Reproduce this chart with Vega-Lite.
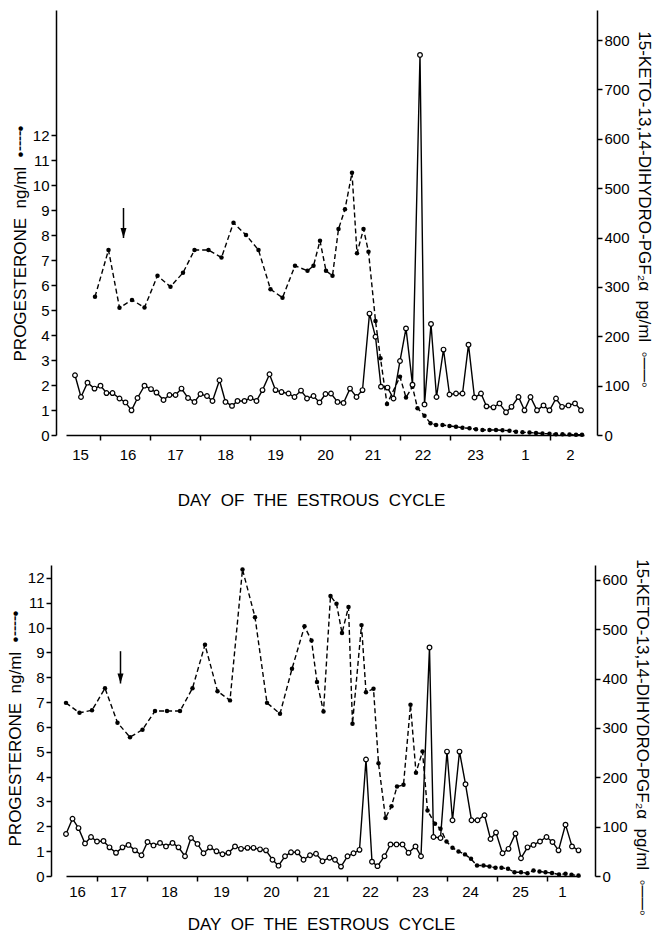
{
  "$schema": "https://vega.github.io/schema/vega-lite/v6.json",
  "padding": {"left": 6, "top": 10, "right": 0, "bottom": 0},
  "background": "white",
  "spacing": 50,
  "datasets": {
    "tp": [
      {"t":0.9,"v":5.53},{"t":1.17,"v":7.4},{"t":1.39,"v":5.09},{"t":1.64,"v":5.4},{"t":1.89,"v":5.1},
      {"t":2.15,"v":6.37},{"t":2.41,"v":5.93},{"t":2.66,"v":6.49},{"t":2.89,"v":7.4},{"t":3.17,"v":7.4},
      {"t":3.43,"v":7.1},{"t":3.67,"v":8.49},{"t":3.92,"v":8.0},{"t":4.17,"v":7.4},{"t":4.41,"v":5.83},
      {"t":4.65,"v":5.49},{"t":4.9,"v":6.77},{"t":5.15,"v":6.57},{"t":5.27,"v":6.77},{"t":5.4,"v":7.77},
      {"t":5.52,"v":6.57},{"t":5.65,"v":6.37},{"t":5.77,"v":8.24},{"t":5.9,"v":9.03},{"t":6.04,"v":10.49},
      {"t":6.14,"v":7.27},{"t":6.27,"v":8.24},{"t":6.37,"v":7.33},{"t":6.51,"v":4.56},{"t":6.61,"v":3.07},
      {"t":6.74,"v":1.24},{"t":7.0,"v":2.33},{"t":7.12,"v":1.5},{"t":7.25,"v":1.93},{"t":7.35,"v":1.07},
      {"t":7.49,"v":0.77},{"t":7.61,"v":0.47},{"t":7.72,"v":0.4},{"t":7.85,"v":0.4},{"t":7.99,"v":0.36},
      {"t":8.12,"v":0.33},{"t":8.25,"v":0.29},{"t":8.39,"v":0.27},{"t":8.52,"v":0.23},{"t":8.65,"v":0.2},
      {"t":8.79,"v":0.2},{"t":8.92,"v":0.2},{"t":9.05,"v":0.19},{"t":9.19,"v":0.17},{"t":9.32,"v":0.13},
      {"t":9.45,"v":0.11},{"t":9.59,"v":0.1},{"t":9.72,"v":0.08},{"t":9.85,"v":0.06},{"t":9.99,"v":0.05},
      {"t":10.12,"v":0.03},{"t":10.25,"v":0.03},{"t":10.39,"v":0.02},{"t":10.52,"v":0.01},{"t":10.64,"v":0.01}
    ],
    "tg": [
      {"t":0.5,"v":121},{"t":0.62,"v":77},{"t":0.75,"v":106},{"t":0.89,"v":94},{"t":1.01,"v":100},
      {"t":1.13,"v":85},{"t":1.25,"v":85},{"t":1.39,"v":74},{"t":1.51,"v":66},{"t":1.63,"v":50},
      {"t":1.75,"v":75},{"t":1.89,"v":100},{"t":2.02,"v":93},{"t":2.13,"v":86},{"t":2.27,"v":71},
      {"t":2.39,"v":81},{"t":2.51,"v":81},{"t":2.63,"v":94},{"t":2.76,"v":75},{"t":2.89,"v":67},
      {"t":3.01,"v":83},{"t":3.14,"v":79},{"t":3.25,"v":69},{"t":3.39,"v":111},{"t":3.51,"v":67},
      {"t":3.64,"v":59},{"t":3.75,"v":69},{"t":3.89,"v":69},{"t":4.01,"v":75},{"t":4.13,"v":69},
      {"t":4.25,"v":91},{"t":4.39,"v":123},{"t":4.51,"v":91},{"t":4.63,"v":87},{"t":4.77,"v":84},
      {"t":4.89,"v":77},{"t":5.02,"v":90},{"t":5.14,"v":74},{"t":5.27,"v":79},{"t":5.39,"v":66},
      {"t":5.51,"v":83},{"t":5.62,"v":84},{"t":5.75,"v":67},{"t":5.87,"v":65},{"t":6.0,"v":94},
      {"t":6.13,"v":77},{"t":6.25,"v":91},{"t":6.39,"v":246},{"t":6.51,"v":199},{"t":6.62,"v":98},
      {"t":6.75,"v":96},{"t":6.87,"v":74},{"t":7.0,"v":150},{"t":7.12,"v":216},{"t":7.25,"v":102},
      {"t":7.4,"v":770},{"t":7.49,"v":62},{"t":7.62,"v":225},{"t":7.73,"v":77},{"t":7.87,"v":173},
      {"t":7.99,"v":82},{"t":8.12,"v":84},{"t":8.25,"v":84},{"t":8.37,"v":183},{"t":8.49,"v":76},
      {"t":8.62,"v":84},{"t":8.73,"v":58},{"t":8.87,"v":56},{"t":8.99,"v":64},{"t":9.12,"v":46},
      {"t":9.23,"v":57},{"t":9.37,"v":77},{"t":9.49,"v":50},{"t":9.61,"v":77},{"t":9.74,"v":50},
      {"t":9.87,"v":60},{"t":9.99,"v":50},{"t":10.12,"v":74},{"t":10.24,"v":57},{"t":10.37,"v":60},
      {"t":10.5,"v":64},{"t":10.62,"v":50}
    ],
    "bp": [
      {"t":0.38,"v":6.97},{"t":0.65,"v":6.57},{"t":0.9,"v":6.67},{"t":1.16,"v":7.56},{"t":1.41,"v":6.17},
      {"t":1.66,"v":5.59},{"t":1.91,"v":5.89},{"t":2.16,"v":6.64},{"t":2.4,"v":6.64},{"t":2.66,"v":6.64},
      {"t":2.91,"v":7.56},{"t":3.16,"v":9.31},{"t":3.41,"v":7.44},{"t":3.66,"v":7.07},{"t":3.91,"v":12.34},
      {"t":4.16,"v":10.42},{"t":4.4,"v":6.97},{"t":4.66,"v":6.53},{"t":4.9,"v":8.34},{"t":5.15,"v":10.05},
      {"t":5.29,"v":9.48},{"t":5.4,"v":7.81},{"t":5.53,"v":6.62},{"t":5.67,"v":11.27},{"t":5.79,"v":10.96},
      {"t":5.9,"v":9.78},{"t":6.03,"v":10.83},{"t":6.11,"v":6.13},{"t":6.29,"v":10.1},{"t":6.38,"v":7.4},
      {"t":6.53,"v":7.54},{"t":6.63,"v":4.54},{"t":6.77,"v":2.33},{"t":6.89,"v":2.81},{"t":7.0,"v":3.6},
      {"t":7.13,"v":3.67},{"t":7.27,"v":6.89},{"t":7.38,"v":4.16},{"t":7.51,"v":5.01},{"t":7.61,"v":2.64},
      {"t":7.76,"v":2.1},{"t":7.87,"v":1.9},{"t":7.99,"v":1.39},{"t":8.11,"v":1.14},{"t":8.23,"v":0.99},
      {"t":8.36,"v":0.87},{"t":8.48,"v":0.69},{"t":8.6,"v":0.42},{"t":8.73,"v":0.42},{"t":8.85,"v":0.38},
      {"t":8.97,"v":0.33},{"t":9.09,"v":0.33},{"t":9.22,"v":0.29},{"t":9.35,"v":0.15},{"t":9.48,"v":0.15},
      {"t":9.61,"v":0.11},{"t":9.73,"v":0.22},{"t":9.85,"v":0.18},{"t":9.97,"v":0.15},{"t":10.1,"v":0.12},
      {"t":10.24,"v":0.06},{"t":10.37,"v":0.09},{"t":10.49,"v":0.05},{"t":10.63,"v":0.02}
    ],
    "bg": [
      {"t":0.38,"v":85},{"t":0.51,"v":116},{"t":0.63,"v":97},{"t":0.76,"v":66},{"t":0.88,"v":79},
      {"t":1.0,"v":70},{"t":1.13,"v":71},{"t":1.25,"v":58},{"t":1.38,"v":47},{"t":1.51,"v":58},
      {"t":1.63,"v":63},{"t":1.76,"v":52},{"t":1.89,"v":42},{"t":2.01,"v":69},{"t":2.13,"v":62},
      {"t":2.26,"v":67},{"t":2.38,"v":60},{"t":2.51,"v":67},{"t":2.63,"v":58},{"t":2.76,"v":40},
      {"t":2.88,"v":77},{"t":3.01,"v":65},{"t":3.13,"v":46},{"t":3.26,"v":58},{"t":3.39,"v":50},
      {"t":3.51,"v":44},{"t":3.63,"v":47},{"t":3.76,"v":60},{"t":3.88,"v":55},{"t":4.01,"v":57},
      {"t":4.13,"v":57},{"t":4.26,"v":54},{"t":4.38,"v":52},{"t":4.51,"v":33},{"t":4.63,"v":21},
      {"t":4.76,"v":40},{"t":4.88,"v":48},{"t":5.01,"v":48},{"t":5.13,"v":33},{"t":5.26,"v":42},
      {"t":5.38,"v":45},{"t":5.51,"v":30},{"t":5.65,"v":37},{"t":5.76,"v":33},{"t":5.88,"v":19},
      {"t":6.01,"v":40},{"t":6.13,"v":46},{"t":6.25,"v":53},{"t":6.38,"v":236},{"t":6.5,"v":29},
      {"t":6.61,"v":20},{"t":6.75,"v":40},{"t":6.87,"v":64},{"t":6.99,"v":64},{"t":7.11,"v":64},
      {"t":7.23,"v":47},{"t":7.37,"v":60},{"t":7.48,"v":40},{"t":7.65,"v":463},{"t":7.73,"v":79},
      {"t":7.87,"v":77},{"t":8.0,"v":252},{"t":8.11,"v":113},{"t":8.25,"v":252},{"t":8.37,"v":186},
      {"t":8.49,"v":113},{"t":8.61,"v":113},{"t":8.75,"v":123},{"t":8.87,"v":75},{"t":8.98,"v":88},
      {"t":9.11,"v":46},{"t":9.23,"v":55},{"t":9.37,"v":86},{"t":9.48,"v":36},{"t":9.61,"v":58},
      {"t":9.73,"v":63},{"t":9.86,"v":70},{"t":9.99,"v":79},{"t":10.11,"v":69},{"t":10.23,"v":52},
      {"t":10.37,"v":104},{"t":10.5,"v":60},{"t":10.63,"v":52}
    ],
    "ta": [{"t":1.47,"y":9.08,"y2":7.88}],
    "ba": [{"t":1.47,"y":9.05,"y2":7.75}]
  },
  "vconcat": [
    {
      "width": 518,
      "height": 425,
      "resolve": {"scale": {"y": "independent"}},
      "layer": [
        {
          "layer": [
            {
              "data": {"name": "tp"},
              "mark": {"type": "line", "color": "black", "strokeWidth": 1.4, "strokeDash": [5, 3]},
              "encoding": {
                "x": {"field": "t", "type": "quantitative",
                  "scale": {"domain": [0.32, 10.68], "nice": false, "zero": false},
                  "axis": {
                    "values": [0.6,1,1.55,2,2.5,3,3.5,4,4.5,5,5.5,6,6.45,7,7.45,8,8.5,9,9.5,10,10.4],
                    "tickCount": 40,
                    "labelExpr": "datum.value % 1 === 0 ? '' : ['15','16','17','18','19','20','21','22','23','1','2'][floor(datum.value)]",
                    "tickOpacity": {"condition": {"test": "datum.value % 1 === 0", "value": 1}, "value": 0},
                    "tickSize": 5, "labelPadding": 7, "labelFlush": false, "labelOverlap": false, "labelBound": false,
                    "title": "DAY\u00a0 OF\u00a0 THE\u00a0 ESTROUS\u00a0 CYCLE", "titlePadding": 30, "titleX": 245
                  }
                },
                "y": {"field": "v", "type": "quantitative",
                  "scale": {"domain": [0, 17], "nice": false, "zero": false},
                  "axis": {
                    "orient": "left", "values": [0,1,2,3,4,5,6,7,8,9,10,11,12], "tickCount": 40, "format": "d", "offset": 10,
                    "tickSize": 5, "labelPadding": 2, "labelOverlap": false, "labelBound": false,
                    "title": "PROGESTERONE\u00a0 ng/ml\u00a0 •╌╌•", "titlePadding": 3, "titleY": 233
                  }
                }
              }
            },
            {
              "data": {"name": "tp"},
              "mark": {"type": "point", "filled": true, "color": "black", "size": 20, "opacity": 1},
              "encoding": {
                "x": {"field": "t", "type": "quantitative"},
                "y": {"field": "v", "type": "quantitative"}
              }
            },
            {
              "data": {"name": "ta"},
              "mark": {"type": "rule", "color": "black", "strokeWidth": 1.5},
              "encoding": {
                "x": {"field": "t", "type": "quantitative"},
                "y": {"field": "y", "type": "quantitative"},
                "y2": {"field": "y2"}
              }
            },
            {
              "data": {"name": "ta"},
              "mark": {"type": "point", "shape": "M-0.6,-2L0.6,-2L0,0Z", "filled": true, "color": "black", "size": 100, "opacity": 1},
              "encoding": {
                "x": {"field": "t", "type": "quantitative"},
                "y": {"field": "y2", "type": "quantitative"}
              }
            }
          ]
        },
        {
          "layer": [
            {
              "data": {"name": "tg"},
              "mark": {"type": "line", "color": "black", "strokeWidth": 1.4},
              "encoding": {
                "x": {"field": "t", "type": "quantitative"},
                "y": {"field": "v", "type": "quantitative",
                  "scale": {"domain": [0, 861], "nice": false, "zero": false},
                  "axis": {
                    "orient": "right", "values": [0,100,200,300,400,500,600,700,800], "tickCount": 40, "format": "d", "offset": 13,
                    "tickSize": 5, "labelPadding": 2, "labelOverlap": false, "labelBound": false,
                    "title": "15-KETO-13,14-DIHYDRO-PGF₂α\u00a0 pg/ml\u00a0 ◦──◦", "titlePadding": 5, "titleY": 199
                  }
                }
              }
            },
            {
              "data": {"name": "tg"},
              "mark": {"type": "point", "filled": true, "fill": "white", "stroke": "black", "strokeWidth": 1.2, "size": 22, "opacity": 1},
              "encoding": {
                "x": {"field": "t", "type": "quantitative"},
                "y": {"field": "v", "type": "quantitative"}
              }
            }
          ]
        }
      ]
    },
    {
      "width": 514,
      "height": 311,
      "resolve": {"scale": {"y": "independent"}},
      "layer": [
        {
          "layer": [
            {
              "data": {"name": "bp"},
              "mark": {"type": "line", "color": "black", "strokeWidth": 1.4, "strokeDash": [5, 3]},
              "encoding": {
                "x": {"field": "t", "type": "quantitative",
                  "scale": {"domain": [0.38, 10.66], "nice": false, "zero": false},
                  "axis": {
                    "values": [0.6,1,1.42,2,2.44,3,3.48,4,4.48,5,5.48,6,6.46,7,7.46,8,8.46,9,9.46,10,10.3],
                    "tickCount": 40,
                    "labelExpr": "datum.value % 1 === 0 ? '' : ['16','17','18','19','20','21','22','23','24','25','1'][floor(datum.value)]",
                    "tickOpacity": {"condition": {"test": "datum.value % 1 === 0", "value": 1}, "value": 0},
                    "tickSize": 5, "labelPadding": 3.5, "labelFlush": false, "labelOverlap": false, "labelBound": false,
                    "title": "DAY\u00a0 OF\u00a0 THE\u00a0 ESTROUS\u00a0 CYCLE", "titlePadding": 17, "titleX": 255
                  }
                },
                "y": {"field": "v", "type": "quantitative",
                  "scale": {"domain": [0, 12.52], "nice": false, "zero": false},
                  "axis": {
                    "orient": "left", "values": [0,1,2,3,4,5,6,7,8,9,10,11,12], "tickCount": 40, "format": "d", "offset": 15,
                    "tickSize": 5, "labelPadding": 2, "labelOverlap": false, "labelBound": false,
                    "title": "PROGESTERONE\u00a0 ng/ml\u00a0 •╌╌•", "titlePadding": 3, "titleY": 163
                  }
                }
              }
            },
            {
              "data": {"name": "bp"},
              "mark": {"type": "point", "filled": true, "color": "black", "size": 20, "opacity": 1},
              "encoding": {
                "x": {"field": "t", "type": "quantitative"},
                "y": {"field": "v", "type": "quantitative"}
              }
            },
            {
              "data": {"name": "ba"},
              "mark": {"type": "rule", "color": "black", "strokeWidth": 1.5},
              "encoding": {
                "x": {"field": "t", "type": "quantitative"},
                "y": {"field": "y", "type": "quantitative"},
                "y2": {"field": "y2"}
              }
            },
            {
              "data": {"name": "ba"},
              "mark": {"type": "point", "shape": "M-0.6,-2L0.6,-2L0,0Z", "filled": true, "color": "black", "size": 100, "opacity": 1},
              "encoding": {
                "x": {"field": "t", "type": "quantitative"},
                "y": {"field": "y2", "type": "quantitative"}
              }
            }
          ]
        },
        {
          "layer": [
            {
              "data": {"name": "bg"},
              "mark": {"type": "line", "color": "black", "strokeWidth": 1.4},
              "encoding": {
                "x": {"field": "t", "type": "quantitative"},
                "y": {"field": "v", "type": "quantitative",
                  "scale": {"domain": [0, 630], "nice": false, "zero": false},
                  "axis": {
                    "orient": "right", "values": [0,100,200,300,400,500,600], "tickCount": 40, "format": "d", "offset": 15,
                    "tickSize": 5, "labelPadding": 2, "labelOverlap": false, "labelBound": false,
                    "title": "15-KETO-13,14-DIHYDRO-PGF₂α\u00a0 pg/ml\u00a0 ◦──◦", "titlePadding": 5, "titleY": 172
                  }
                }
              }
            },
            {
              "data": {"name": "bg"},
              "mark": {"type": "point", "filled": true, "fill": "white", "stroke": "black", "strokeWidth": 1.2, "size": 22, "opacity": 1},
              "encoding": {
                "x": {"field": "t", "type": "quantitative"},
                "y": {"field": "v", "type": "quantitative"}
              }
            }
          ]
        }
      ]
    }
  ],
  "config": {
    "font": "Liberation Sans",
    "view": {"stroke": null},
    "axis": {
      "grid": false,
      "labelFont": "Liberation Sans",
      "titleFont": "Liberation Sans",
      "labelFontSize": 15,
      "titleFontSize": 17,
      "titleFontWeight": "normal",
      "labelColor": "black",
      "titleColor": "black",
      "domainColor": "black",
      "tickColor": "black",
      "domainWidth": 1.5,
      "tickWidth": 1.5
    }
  }
}
